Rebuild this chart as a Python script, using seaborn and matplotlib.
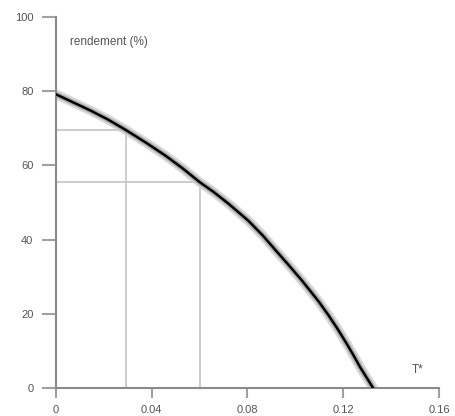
import pandas as pd
import seaborn as sns
import matplotlib
matplotlib.use("Agg")
from matplotlib import pyplot as plt

# curve
t_star = [0.0, 0.0142, 0.022, 0.0294, 0.038, 0.0459, 0.053, 0.0601, 0.066,
          0.0721, 0.0804, 0.0866, 0.0928, 0.0969, 0.103, 0.1098, 0.114,
          0.1176, 0.1217, 0.1245, 0.1271, 0.130, 0.1325]
rendement = [79.2, 74.9, 72.3, 69.5, 66.0, 62.6, 59.2, 55.5, 52.8,
             49.7, 45.1, 41.0, 36.4, 33.4, 28.8, 23.3, 19.5,
             16.0, 11.7, 8.6, 5.6, 2.6, 0.0]

# guide lines (two operating points)
guide_x = [0.0294, 0.0601]
guide_y = [69.5, 55.5]

x_ticks = [0, 0.04, 0.08, 0.12, 0.16]
x_labels = ["0", "0.04", "0.08", "0.12", "0.16"]
y_ticks = [0, 20, 40, 60, 80, 100]

sns.set_style("ticks")
plt.rcParams['font.family'] = ['Liberation Sans', 'DejaVu Sans']

df = pd.DataFrame({'T': t_star, 'rendement': rendement})

fig = plt.figure(figsize=(4.55, 4.16), dpi=100)
ax = fig.add_axes([0.1224, 0.0673, 0.8424, 0.8918])

grey = '#c8c8c8'
for gx, gy in zip(guide_x, guide_y):
    ax.plot([0, gx], [gy, gy], color=grey, lw=1.3, zorder=1)
    ax.plot([gx, gx], [0, gy], color=grey, lw=1.3, zorder=1)

# blurry halo then the black curve
sns.lineplot(data=df, x='T', y='rendement', ax=ax, color='#d0d0d0', lw=7, alpha=0.8, zorder=2)
sns.lineplot(data=df, x='T', y='rendement', ax=ax, color='#909090', lw=4, alpha=0.6, zorder=2)
sns.lineplot(data=df, x='T', y='rendement', ax=ax, color='black', lw=1.8, zorder=3)

ax.set_xlim(0, 0.16)
ax.set_ylim(0, 100)
ax.set_xticks(x_ticks)
ax.set_xticklabels(x_labels)
ax.set_yticks(y_ticks)
ax.set_xlabel('')
ax.set_ylabel('')

sns.despine(ax=ax)
for side in ['left', 'bottom']:
    ax.spines[side].set_color('#8a8a8a')
    ax.spines[side].set_linewidth(1.5)
ax.tick_params(axis='y', length=10, width=1.5, color='#a0a0a0', pad=6,
               labelsize=8, labelcolor='#555555')
ax.tick_params(axis='x', length=7, width=1.5, color='#a0a0a0', pad=5,
               labelsize=8, labelcolor='#555555')

ax.text(0.006, 93.3, 'rendement (%)', fontsize=8.5, color='#555555', va='center', ha='left')
ax.text(0.1486, 4.9, 'T*', fontsize=8.5, color='#555555', va='center', ha='left')

fig.savefig('out.png', dpi=100)
